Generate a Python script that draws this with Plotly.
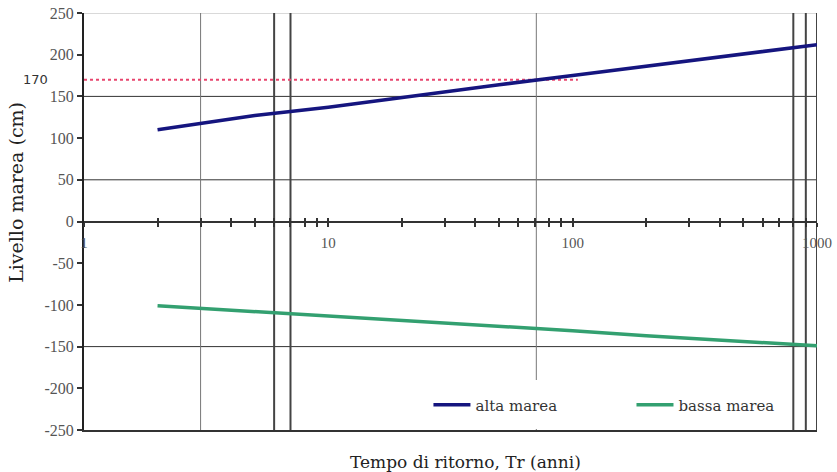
import plotly.graph_objects as go

# ---- data ----
tr = [2, 5, 10, 20, 50, 100, 200, 500, 1000]
alta_marea = [110, 127, 137, 149, 164, 175, 186, 200, 212]
bassa_marea = [-101, -108, -113, -119, -126, -131, -137, -144, -149]

soglia_val = 170
soglia_tr = [1, 105]

y_tickvals = [250, 200, 150, 100, 50, 0, -50, -100, -150, -200, -250]
y_ticktext = ["250", "200", "150", "100", "50", "0", "-50", "-100", "-150", "-200", "-250"]

x_tickvals = [1, 2, 3, 4, 5, 6, 7, 8, 9,
              10, 20, 30, 40, 50, 60, 70, 80, 90,
              100, 200, 300, 400, 500, 600, 700, 800, 900, 1000]
x_ticktext = ["1", "", "", "", "", "", "", "", "",
              "10", "", "", "", "", "", "", "", "",
              "100", "", "", "", "", "", "", "", "", "1000"]

hgrid_vals = [150, 50, -150]
vline_thin = [3, 71]
vline_thick = [6, 7, 800, 900, 1000]

SERIF = "DejaVu Serif"
TICKSERIF = "Liberation Serif"

fig = go.Figure()

fig.add_trace(go.Scatter(x=soglia_tr, y=[soglia_val] * len(soglia_tr), mode="lines",
                         line=dict(color="#e8456e", width=2, dash="dot"),
                         showlegend=False, hoverinfo="skip"))
fig.add_trace(go.Scatter(x=tr, y=alta_marea, mode="lines", name="alta marea",
                         line=dict(color="#15157f", width=3.5), legend="legend"))
fig.add_trace(go.Scatter(x=tr, y=bassa_marea, mode="lines", name="bassa marea",
                         line=dict(color="#33a070", width=3.5), legend="legend2"))
# invisible carriers so the zero-line axes get drawn
for ax in ["x2", "x3"]:
    fig.add_trace(go.Scatter(x=tr, y=alta_marea, xaxis=ax, mode="markers",
                             marker=dict(opacity=0), showlegend=False, hoverinfo="skip"))

shapes = []
for v in hgrid_vals:
    shapes.append(dict(type="line", xref="paper", yref="y", x0=0, x1=1, y0=v, y1=v,
                       line=dict(color="#333333", width=1), layer="below"))
shapes.append(dict(type="line", xref="paper", yref="y", x0=0, x1=1, y0=250, y1=250,
                   line=dict(color="#cccccc", width=1.5), layer="below"))
for v in vline_thin:
    shapes.append(dict(type="line", xref="x", yref="paper", x0=v, x1=v, y0=0, y1=1,
                       line=dict(color="#777777", width=1), layer="below"))
for v in vline_thick:
    shapes.append(dict(type="line", xref="x", yref="paper", x0=v, x1=v, y0=0, y1=1,
                       line=dict(color="#444444", width=2), layer="below"))

axis_common = dict(type="log", range=[0, 3], showgrid=False, zeroline=False, automargin=False)
legend_common = dict(orientation="h", y=0.06, xanchor="left", yanchor="middle",
                     bgcolor="white", bordercolor="white", borderwidth=8, itemwidth=37,
                     font=dict(family=SERIF, size=15, color="#333333"))

fig.update_layout(
    width=837, height=472,
    margin=dict(l=84, r=20, t=13, b=42),
    paper_bgcolor="white", plot_bgcolor="white",
    showlegend=True,
    shapes=shapes,
    xaxis=dict(**axis_common, showline=True, linecolor="#333333", linewidth=1.5,
               ticks="", showticklabels=False),
    xaxis2=dict(**axis_common, overlaying="x", anchor="free", position=0.5,
                showline=True, linecolor="#333333", linewidth=2,
                tickmode="array", tickvals=x_tickvals, ticktext=x_ticktext,
                ticks="outside", ticklen=4, tickwidth=2, tickcolor="#333333",
                ticklabelstandoff=3,
                tickfont=dict(family=TICKSERIF, size=15, color="#555555")),
    xaxis3=dict(**axis_common, overlaying="x", anchor="free", position=0.5,
                showline=False, tickmode="array", tickvals=x_tickvals,
                ticks="inside", ticklen=4, tickwidth=2, tickcolor="#333333",
                showticklabels=False),
    yaxis=dict(range=[-250, 250], tickmode="array", tickvals=y_tickvals, ticktext=y_ticktext,
               showgrid=False, zeroline=False, showline=True, linecolor="#222222", linewidth=2,
               ticks="outside", ticklen=5, tickwidth=1.5, tickcolor="#333333", automargin=False,
               tickfont=dict(family=TICKSERIF, size=16, color="#555555")),
    legend=dict(**legend_common, x=0.459),
    legend2=dict(**legend_common, x=0.736),
    annotations=[
        dict(text="170", xref="paper", yref="y", x=-0.066, y=soglia_val, xanchor="center",
             yanchor="middle", showarrow=False,
             font=dict(family="DejaVu Sans", size=13, color="#333333")),
        dict(text="Livello marea (cm)", xref="paper", yref="paper", x=-0.092, y=0.57,
             xanchor="center", yanchor="middle", textangle=-90, showarrow=False,
             font=dict(family=SERIF, size=19, color="#222222")),
        dict(text="Tempo di ritorno, Tr (anni)", xref="paper", yref="paper", x=0.52, y=-0.077,
             xanchor="center", yanchor="middle", showarrow=False,
             font=dict(family=SERIF, size=17, color="#222222")),
    ],
)

fig.write_html("out.html", config={"displayModeBar": False},
               post_script="document.body.style.margin='0';")
